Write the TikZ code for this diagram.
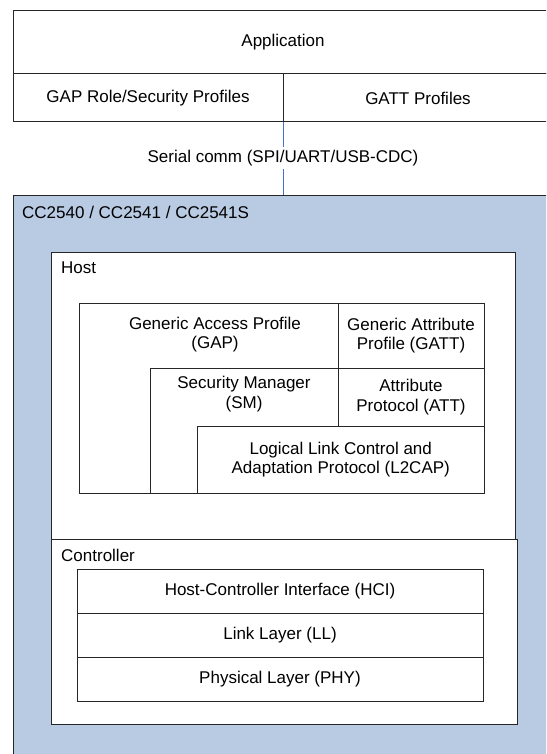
\documentclass[tikz,border=0pt]{standalone}
\usepackage{fontspec}
\setmainfont{Liberation Sans}
\usetikzlibrary{positioning}
\definecolor{chipblue}{RGB}{185,202,227}
\definecolor{linkblue}{RGB}{68,114,196}
\newcommand{\boxfont}{\fontsize{17}{19.5}\selectfont}
\tikzset{%
  box/.style={draw=black!85,line width=1pt,fill=white,anchor=north west,
    inner sep=0pt,outer sep=0pt,align=center,font=\boxfont},
  tag/.style={anchor=west,inner sep=0pt,font=\boxfont},
  txt/.style={inner sep=0pt,align=center,font=\boxfont}}

\begin{document}
\begin{tikzpicture}[x=1pt,y=-1pt]
  \clip (0,0) rectangle (546,754);
  \fill[white] (0,0) rectangle (546,754);
  \node[box,minimum width=540pt,minimum height=63pt] (app) at (13,11) {Application};
  \node[box,minimum width=270pt,minimum height=48pt] (gaprole) at (13,74) {GAP Role/Security Profiles};
  \node[box,minimum width=270pt,minimum height=48pt] (gattprof) at (283,74) {GATT Profiles};
  \node[box,fill=chipblue,minimum width=540pt,minimum height=575pt] (chip) at (13,195) {};
  \node[txt,inner sep=3pt] (serial) at (283,158) {Serial comm (SPI/UART/USB-CDC)};
  \draw[linkblue,line width=0.8pt] (gaprole.south east) -- (serial);
  \draw[linkblue,line width=0.8pt] (serial) -- (chip);
  \node[tag] (chiptag) at (22,212) {CC2540 / CC2541 / CC2541S};
  \node[box,minimum width=463.5pt,minimum height=287pt] (host) at (51.5,252) {};
  \node[tag] (hosttag) at (61,268) {Host};
  \node[box,minimum width=465.5pt,minimum height=185pt] (ctrl) at (51.5,539) {};
  \node[tag] (ctrltag) at (61,555) {Controller};
  \foreach \name/\y/\lbl in {hci/569/Host-Controller Interface (HCI),
      ll/613/Link Layer (LL),phy/657/Physical Layer (PHY)}
    \node[box,minimum width=406pt,minimum height=44pt] (\name) at (77,\y) {\lbl};
  \draw[draw=black!85,line width=1pt,fill=white] (79.5,303) -- (338,303) -- (338,368)
    -- (150,368) -- (150,493) -- (79.5,493) -- cycle;
  \node[txt] (gap) at (215,334.5) {Generic Access Profile\\(GAP)};
  \draw[draw=black!85,line width=1pt,fill=white] (150,368) -- (338,368) -- (338,426)
    -- (197.5,426) -- (197.5,493) -- (150,493) -- cycle;
  \node[txt] (sm) at (244,394) {Security Manager\\(SM)};
  \node[box,minimum width=146pt,minimum height=65pt] (gatt) at (338,303) {Generic Attribute\\Profile (GATT)};
  \node[box,minimum width=146pt,minimum height=58pt] (att) at (338,368) {Attribute\\Protocol (ATT)};
  \node[box,minimum width=286.5pt,minimum height=67pt] (l2cap) at (197.5,426) {Logical Link Control and\\Adaptation Protocol (L2CAP)};
\end{tikzpicture}
\end{document}
